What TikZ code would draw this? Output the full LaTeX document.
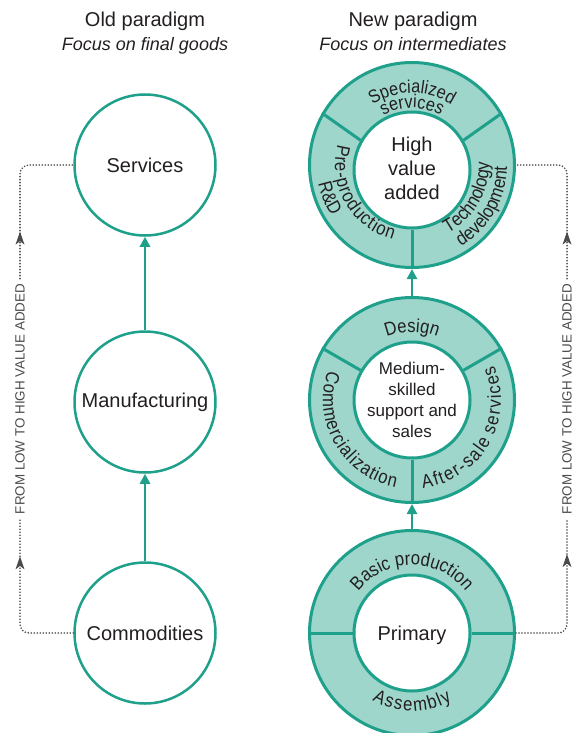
\documentclass[tikz,border=0pt]{standalone}
\usepackage{fontspec}
\setmainfont{Liberation Sans}
\newfontfamily\condfont{Liberation Sans}[FakeStretch=0.88]
\usetikzlibrary{decorations.text,decorations.markings,arrows.meta}
\definecolor{tealA}{RGB}{30,160,139}
\definecolor{tealL}{RGB}{158,214,204}
\definecolor{txt}{RGB}{35,31,32}
\definecolor{dgray}{RGB}{75,75,78}
\newcommand\ringfont{\condfont\fontsize{19}{22}\selectfont}
\newcommand\smallringfont{\condfont\fontsize{18.5}{22}\selectfont}
\newcommand\ksa{\kern1pt}
\newcommand\ksb{\kern1.6pt}
\begin{document}
\begin{tikzpicture}[x=1pt,y=1pt,
  oldc/.style={circle, draw=tealA, line width=2.5pt, fill=white, minimum size=141pt, inner sep=0pt, text=txt, font=\fontsize{20}{24}\selectfont},
  outerring/.style={circle, draw=tealA, line width=3pt, fill=tealL, minimum size=205pt, inner sep=0pt},
  innerring/.style={circle, draw=tealA, line width=3pt, fill=white, minimum size=116pt, inner sep=0pt},
  divider/.style={draw=tealA, line width=3pt},
  ctext/.style={align=center, text=txt, inner sep=0pt},
  uparrow/.style={draw=tealA, line width=2.5pt, -{Triangle[length=10pt,width=10pt]}},
  dotline/.style={draw=dgray, line width=1.8pt, line cap=round, dash pattern=on 0pt off 3pt, rounded corners=9pt},
  sidetext/.style={rotate=90, text=dgray, inner sep=5pt, font=\fontsize{13.4}{16}\selectfont},
  head/.style={anchor=base, text=txt, inner sep=0pt, font=\fontsize{20}{24}\selectfont},
  subhead/.style={anchor=base, text=txt, inner sep=0pt, font=\fontsize{18}{22}\selectfont\itshape},
  arclabel/.style={decorate, decoration={text along path, text align=center, text color=txt, text={#1}}},
  tipmark/.style={decoration={markings, mark=at position #1 with {\fill[dgray, sharp corners] (1pt,0pt) -- (-12pt,4.5pt) -- (-8.5pt,0pt) -- (-12pt,-4.5pt) -- cycle;}}, postaction={decorate}}
]
\useasboundingbox (0,0) rectangle (575,-733);

% headers
\node[head] (oldh) at (145,-27) {Old paradigm};
\node[subhead] (oldf) at (145,-51) {Focus on final goods};
\node[head] (newh) at (413,-27) {New paradigm};
\node[subhead] (newf) at (413,-51) {Focus on intermediates};

% old paradigm
\node[oldc] (serv) at (145,-165) {Services};
\node[oldc] (manu) at (145,-402) {Manufacturing};
\node[oldc] (comm) at (145,-633) {Commodities};
\draw[uparrow] (comm.north) -- (manu.south);
\draw[uparrow] (manu.north) -- (serv.south);

% new paradigm rings
\coordinate (cT) at (412,-165);
\coordinate (cTi) at (412,-170);
\coordinate (cM) at (412,-400);
\coordinate (cB) at (412,-633);

\node[outerring] (tO) at (cT) {};
\node[innerring] (tI) at (cTi) {};
\node[outerring] (mO) at (cM) {};
\node[innerring] (mI) at (cM) {};
\node[outerring] (bO) at (cB) {};
\node[innerring] (bI) at (cB) {};

\foreach \a in {30,150,270} {
  \draw[divider] (tI.\a) -- (tO.\a);
  \draw[divider] (mI.\a) -- (mO.\a);
}
\foreach \a in {0,180} {
  \draw[divider] (bI.\a) -- (bO.\a);
}

\node[ctext, font=\fontsize{20}{24}\selectfont] (tT) at (412,-168) {High\\value\\added};
\node[ctext, font=\fontsize{17}{21}\selectfont] (mT) at (412,-400) {Medium-\\skilled\\support and\\sales};
\node[ctext, font=\fontsize{20}{24}\selectfont] (bT) at (412,-635) {Primary};

\draw[uparrow] (bO.north) -- (mO.south);
\draw[uparrow] (mO.north) -- (tO.south);

% top ring labels
\path[arclabel={|\smallringfont|Specialized}] ([shift={(150:72pt)}]cT) arc[start angle=150, end angle=30, radius=72pt];
\path[arclabel={|\smallringfont|services}] ([shift={(150:57pt)}]cT) arc[start angle=150, end angle=30, radius=57pt];
\path[arclabel={|\ringfont|P{\ksa}r{\ksa}e{\ksa}-{\ksa}p{\ksa}r{\ksa}o{\ksa}d{\ksa}u{\ksa}c{\ksa}t{\ksa}i{\ksa}o{\ksa}n}] ([shift={(150:77pt)}]cT) arc[start angle=150, end angle=270, radius=77pt];
\path[arclabel={|\ringfont|R{\&}D}] ([shift={(142:95.5pt)}]cT) arc[start angle=142, end angle=262, radius=95.5pt];
\path[arclabel={|\ringfont|Technology}] ([shift={(270:77pt)}]cT) arc[start angle=270, end angle=390, radius=77pt];
\path[arclabel={|\ringfont|development}] ([shift={(270:95pt)}]cT) arc[start angle=270, end angle=390, radius=95pt];

% middle ring labels
\path[arclabel={|\ringfont|Design}] ([shift={(150:68pt)}]cM) arc[start angle=150, end angle=30, radius=68pt];
\path[arclabel={|\ringfont|C{\ksa}o{\ksa}m{\ksa}m{\ksa}e{\ksa}r{\ksa}c{\ksa}i{\ksa}a{\ksa}l{\ksa}i{\ksa}z{\ksa}a{\ksa}t{\ksa}i{\ksa}o{\ksa}n}] ([shift={(150:89pt)}]cM) arc[start angle=150, end angle=270, radius=89pt];
\path[arclabel={|\ringfont|A{\ksb}f{\ksb}t{\ksb}e{\ksb}r{\ksb}-{\ksb}s{\ksb}a{\ksb}l{\ksb}e {\ksb}s{\ksb}e{\ksb}r{\ksb}v{\ksb}i{\ksb}c{\ksb}e{\ksb}s}] ([shift={(270:89pt)}]cM) arc[start angle=270, end angle=390, radius=89pt];

% bottom ring labels
\path[arclabel={|\ringfont|Basic production}] ([shift={(175:68pt)}]cB) arc[start angle=175, end angle=5, radius=68pt];
\path[arclabel={|\ringfont|A{\ksb}s{\ksb}s{\ksb}e{\ksb}m{\ksb}b{\ksb}l{\ksb}y}] ([shift={(200:78pt)}]cB) arc[start angle=200, end angle=340, radius=78pt];

% side labels
\node[sidetext] (lside) at (20,-399) {FROM LOW TO HIGH VALUE ADDED};
\node[sidetext] (rside) at (567,-399) {FROM LOW TO HIGH VALUE ADDED};

\draw[dotline, tipmark=125pt] (comm.west) -| (lside.west);
\draw[dotline, tipmark=46pt] (lside.east) |- (serv.west);
\draw[dotline, tipmark=125pt] (bO.east) -| (rside.west);
\draw[dotline, tipmark=46pt] (rside.east) |- (tO.east);
\end{tikzpicture}
\end{document}
